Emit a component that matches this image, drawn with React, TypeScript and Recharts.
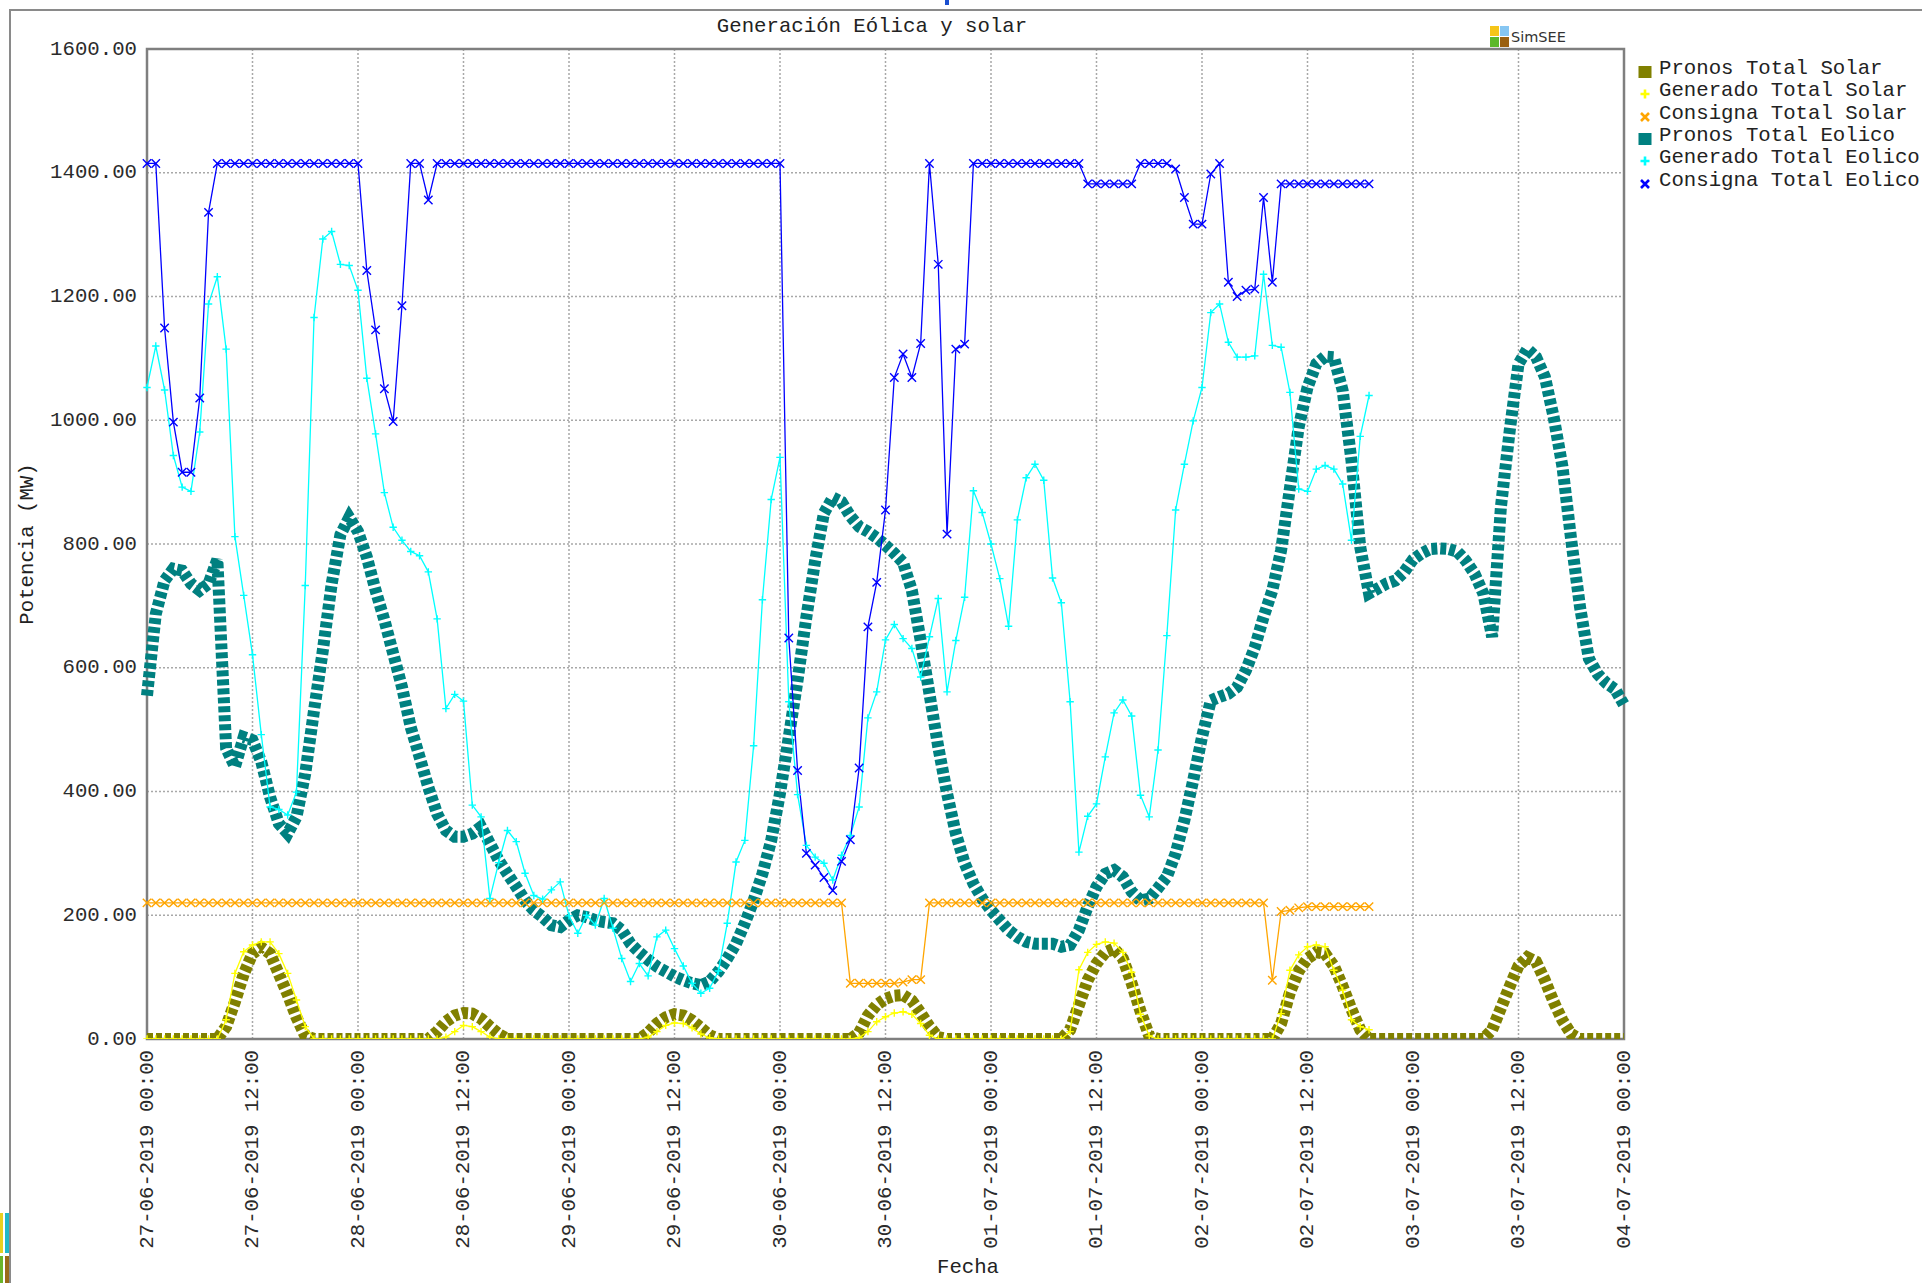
import { LineChart, Line, XAxis, YAxis, CartesianGrid, ReferenceArea } from 'recharts'

const MONO = '"Liberation Mono", "DejaVu Sans Mono", monospace'

// hour 0 = 27-06-2019 00:00, one value per hour
const xTicks = [0, 12, 24, 36, 48, 60, 72, 84, 96, 108, 120, 132, 144, 156, 168]
const xTickLabels = [
  '27-06-2019 00:00', '27-06-2019 12:00', '28-06-2019 00:00', '28-06-2019 12:00',
  '29-06-2019 00:00', '29-06-2019 12:00', '30-06-2019 00:00', '30-06-2019 12:00',
  '01-07-2019 00:00', '01-07-2019 12:00', '02-07-2019 00:00', '02-07-2019 12:00',
  '03-07-2019 00:00', '03-07-2019 12:00', '04-07-2019 00:00',
]
const yTicks = [0, 200, 400, 600, 800, 1000, 1200, 1400, 1600]
const yTickLabels = ['0.00', '200.00', '400.00', '600.00', '800.00', '1000.00', '1200.00', '1400.00', '1600.00']

const pronosSolar = [
  0, 0, 0, 0, 0, 0, 0, 0, 0, 20, 60, 105, 138, 148, 138, 105, 72, 35, 5, 0, 0, 0, 0, 0,
  0, 0, 0, 0, 0, 0, 0, 0, 0, 12, 28, 38, 42, 41, 33, 20, 8, 0, 0, 0, 0, 0, 0, 0,
  0, 0, 0, 0, 0, 0, 0, 0, 0, 10, 25, 35, 40, 38, 30, 18, 6, 0, 0, 0, 0, 0, 0, 0,
  0, 0, 0, 0, 0, 0, 0, 0, 0, 10, 38, 55, 65, 70, 71, 62, 42, 20, 3, 0, 0, 0, 0, 0,
  0, 0, 0, 0, 0, 0, 0, 0, 0, 15, 55, 95, 122, 140, 146, 130, 90, 45, 5, 0, 0, 0, 0, 0,
  0, 0, 0, 0, 0, 0, 0, 0, 0, 25, 75, 110, 130, 140, 138, 118, 85, 48, 15, 0, 0, 0, 0, 0,
  0, 0, 0, 0, 0, 0, 0, 0, 0, 15, 50, 85, 118, 132, 125, 95, 60, 30, 8, 0, 0, 0, 0, 0,
  0,
]

const generadoSolar = [
  0, 0, 0, 0, 0, 0, 0, 0, 0, 31, 106, 141, 152, 157, 157, 138, 106, 63, 20, 0, 0, 0, 0, 0,
  0, 0, 0, 0, 0, 0, 0, 0, 0, 0, 3, 12, 22, 20, 12, 3, 0, 0, 0, 0, 0, 0, 0, 0,
  0, 0, 0, 0, 0, 0, 0, 0, 0, 3, 12, 22, 26, 25, 18, 8, 2, 0, 0, 0, 0, 0, 0, 0,
  0, 0, 0, 0, 0, 0, 0, 0, 0, 2, 12, 28, 36, 42, 44, 40, 25, 6, 0, 0, 0, 0, 0, 0,
  0, 0, 0, 0, 0, 0, 0, 0, 0, 12, 112, 140, 153, 157, 155, 140, 108, 40, 5, 0, 0, 0, 0, 0,
  0, 0, 0, 0, 0, 0, 0, 0, 0, 41, 111, 136, 149, 152, 149, 111, 79, 31, 20, 15,
]

const consignaSolar = [
  220, 220, 220, 220, 220, 220, 220, 220, 220, 220, 220, 220, 220, 220, 220, 220, 220, 220, 220, 220, 220, 220, 220, 220,
  220, 220, 220, 220, 220, 220, 220, 220, 220, 220, 220, 220, 220, 220, 220, 220, 220, 220, 220, 220, 220, 220, 220, 220,
  220, 220, 220, 220, 220, 220, 220, 220, 220, 220, 220, 220, 220, 220, 220, 220, 220, 220, 220, 220, 220, 220, 220, 220,
  220, 220, 220, 220, 220, 220, 220, 220, 90, 90, 90, 90, 90, 90, 92, 96, 96, 220, 220, 220, 220, 220, 220, 220,
  220, 220, 220, 220, 220, 220, 220, 220, 220, 220, 220, 220, 220, 220, 220, 220, 220, 220, 220, 220, 220, 220, 220, 220,
  220, 220, 220, 220, 220, 220, 220, 220, 95, 206, 208, 212, 214, 214, 214, 214, 214, 214, 214, 214,
]

const pronosEolico = [
  555, 687, 741, 760, 757, 736, 725, 736, 775, 470, 440, 488, 483, 448, 391, 348, 332, 359, 429, 531, 628, 735, 815, 843,
  820, 779, 725, 677, 623, 569, 504, 456, 407, 364, 337, 327, 327, 332, 343, 316, 289, 267, 246, 224, 208, 197, 184, 181,
  192, 200, 197, 192, 189, 187, 176, 154, 140, 128, 117, 109, 101, 95, 90, 87, 93, 109, 130, 154, 187, 224, 267, 321,
  397, 488, 580, 682, 773, 850, 875, 868, 845, 828, 820, 810, 798, 785, 770, 725, 644, 558, 472, 397, 332, 284, 251, 227,
  208, 192, 176, 165, 157, 154, 154, 154, 149, 152, 176, 214, 246, 267, 273, 262, 238, 224, 227, 244, 262, 300, 354, 418,
  488, 547, 553, 558, 569, 596, 633, 682, 725, 790, 890, 989, 1053, 1091, 1103, 1102, 1048, 935, 795, 720, 728, 736, 741, 755,
  775, 785, 792, 793, 792, 788, 773, 752, 720, 650, 860, 983, 1091, 1115, 1102, 1070, 1005, 925, 806, 698, 615, 590, 575, 565,
  540,
]

const generadoEolico = [
  1053, 1120, 1049, 943, 892, 885, 981, 1188, 1232, 1115, 812, 717, 621, 492, 375, 371, 362, 399, 733, 1166, 1293, 1305, 1252, 1250,
  1210, 1068, 978, 883, 827, 806, 788, 781, 755, 679, 534, 557, 546, 378, 359, 227, 285, 337, 319, 268, 232, 226, 241, 254,
  199, 171, 200, 184, 227, 179, 130, 93, 122, 102, 165, 176, 146, 118, 90, 74, 82, 110, 187, 286, 321, 474, 710, 872,
  940, 545, 395, 313, 294, 284, 257, 297, 329, 375, 519, 561, 645, 670, 647, 631, 585, 650, 712, 561, 644, 714, 886, 851,
  800, 744, 667, 839, 907, 929, 903, 745, 705, 545, 302, 360, 380, 456, 527, 548, 522, 394, 359, 467, 652, 855, 929, 999,
  1053, 1174, 1188, 1126, 1102, 1102, 1104, 1236, 1121, 1118, 1045, 889, 885, 921, 927, 921, 897, 806, 974, 1040,
]

const consignaEolico = [
  1415, 1415, 1149, 997, 916, 916, 1036, 1336, 1415, 1415, 1415, 1415, 1415, 1415, 1415, 1415, 1415, 1415, 1415, 1415, 1415, 1415, 1415, 1415,
  1415, 1242, 1146, 1051, 998, 1185, 1415, 1415, 1356, 1415, 1415, 1415, 1415, 1415, 1415, 1415, 1415, 1415, 1415, 1415, 1415, 1415, 1415, 1415,
  1415, 1415, 1415, 1415, 1415, 1415, 1415, 1415, 1415, 1415, 1415, 1415, 1415, 1415, 1415, 1415, 1415, 1415, 1415, 1415, 1415, 1415, 1415, 1415,
  1415, 648, 434, 300, 281, 261, 240, 287, 322, 438, 666, 738, 855, 1069, 1107, 1069, 1124, 1415, 1252, 816, 1115, 1123, 1415, 1415,
  1415, 1415, 1415, 1415, 1415, 1415, 1415, 1415, 1415, 1415, 1415, 1382, 1382, 1382, 1382, 1382, 1382, 1415, 1415, 1415, 1415, 1406, 1360, 1317,
  1317, 1398, 1415, 1223, 1200, 1210, 1212, 1360, 1223, 1382, 1382, 1382, 1382, 1382, 1382, 1382, 1382, 1382, 1382, 1382,
]

type Kind = 'band' | 'plus' | 'cross'
const SERIES: { key: string; name: string; color: string; kind: Kind }[] = [
  { key: 'pronosSolar', name: 'Pronos Total Solar', color: '#808000', kind: 'band' },
  { key: 'generadoSolar', name: 'Generado Total Solar', color: '#ffff00', kind: 'plus' },
  { key: 'consignaSolar', name: 'Consigna Total Solar', color: '#ffa500', kind: 'cross' },
  { key: 'pronosEolico', name: 'Pronos Total Eolico', color: '#008080', kind: 'band' },
  { key: 'generadoEolico', name: 'Generado Total Eolico', color: '#00ffff', kind: 'plus' },
  { key: 'consignaEolico', name: 'Consigna Total Eolico', color: '#0000ff', kind: 'cross' },
]

const rows = pronosSolar.map((v, h) => ({
  h,
  pronosSolar: v,
  generadoSolar: generadoSolar[h],
  consignaSolar: consignaSolar[h],
  pronosEolico: pronosEolico[h],
  generadoEolico: generadoEolico[h],
  consignaEolico: consignaEolico[h],
}))

const markerDot = (color: string, kind: Kind) => (props: any) => {
  const { cx, cy, index } = props
  if (cx == null || cy == null || Number.isNaN(cy)) return <g key={`m${index}`} />
  const r = kind === 'plus' ? 3.7 : 4.2
  const d = kind === 'plus'
    ? `M${cx - r},${cy}H${cx + r}M${cx},${cy - r}V${cy + r}`
    : `M${cx - r},${cy - r}L${cx + r},${cy + r}M${cx - r},${cy + r}L${cx + r},${cy - r}`
  return <path key={`m${index}`} d={d} stroke={color} strokeWidth={1.4} fill="none" />
}

function XTick(props: any) {
  const { x, y, payload } = props
  const label = xTickLabels[xTicks.indexOf(payload.value)]
  return (
    <text x={x} y={y} transform={`rotate(-90 ${x} ${y})`} textAnchor="end" dominantBaseline="central"
      fontFamily={MONO} fontSize={20.7} fill="#2b2b2b">
      {label}
    </text>
  )
}

function YTick(props: any) {
  const { x, y, payload } = props
  const label = yTickLabels[yTicks.indexOf(payload.value)]
  return (
    <text x={x} y={y} textAnchor="end" dominantBaseline="central" fontFamily={MONO} fontSize={20.7} fill="#2b2b2b">
      {label}
    </text>
  )
}

function LegendMarker({ color, kind }: { color: string; kind: Kind }) {
  return (
    <svg width={22} height={22} style={{ flexShrink: 0 }}>
      {kind === 'band' && <rect x={1.5} y={8} width={13} height={12} fill={color} />}
      {kind === 'plus' && <path d="M3.5,14H12.5M8,9.5V18.5" stroke={color} strokeWidth={2.6} />}
      {kind === 'cross' && <path d="M4,10L12,18M4,18L12,10" stroke={color} strokeWidth={2.6} />}
    </svg>
  )
}

export default function App() {
  return (
    <div style={{ position: 'absolute', left: 0, top: 0, width: 1922, height: 1283, background: '#fff', overflow: 'hidden' }}>
      {/* outer frame of the screenshot */}
      <div style={{ position: 'absolute', left: 9, top: 9, right: 0, bottom: 0, borderTop: '2px solid #8a8a8a', borderLeft: '2px solid #8a8a8a' }} />
      <div style={{ position: 'absolute', left: 945, top: 0, width: 4, height: 5, background: '#1a4fd0' }} />
      <div style={{ position: 'absolute', left: 0, top: 1213, width: 3, height: 40, background: '#e8d020' }} />
      <div style={{ position: 'absolute', left: 5, top: 1213, width: 4, height: 40, background: '#20b8c8' }} />
      <div style={{ position: 'absolute', left: 0, top: 1256, width: 3, height: 27, background: '#6ab52a' }} />
      <div style={{ position: 'absolute', left: 5, top: 1256, width: 4, height: 27, background: '#9a6a18' }} />

      <div style={{ position: 'absolute', left: 0, top: 0 }}>
        <LineChart width={1922} height={1283} data={rows} margin={{ top: 49, right: 298, bottom: 0, left: 0 }}>
          <CartesianGrid stroke="#a8a8a8" strokeDasharray="2 2" strokeWidth={1.5} />
          <XAxis dataKey="h" type="number" domain={[0, 168]} ticks={xTicks} interval={0} height={244}
            tickSize={0} tickMargin={11} axisLine={false} tickLine={false} tick={<XTick />} />
          <YAxis type="number" domain={[0, 1600]} ticks={yTicks} interval={0} width={147} allowDataOverflow
            tickSize={0} tickMargin={10} axisLine={false} tickLine={false} tick={<YTick />} />
          {SERIES.map(s => s.kind === 'band' ? (
            <Line key={s.key} dataKey={s.key} type="linear" stroke={s.color} strokeWidth={12} strokeDasharray="6 3"
              dot={false} activeDot={false} isAnimationActive={false} />
          ) : (
            <Line key={s.key} dataKey={s.key} type="linear" stroke={s.color} strokeWidth={1.3}
              dot={markerDot(s.color, s.kind)} activeDot={false} isAnimationActive={false} />
          ))}
          <ReferenceArea x1={0} x2={168} y1={0} y2={1600} fill="none" stroke="#7f7f7f" strokeWidth={2.5} ifOverflow="visible" />
        </LineChart>
      </div>

      {/* title */}
      <div style={{ position: 'absolute', left: 0, top: 14, width: 1744, textAlign: 'center', fontFamily: MONO, fontSize: 20.7, lineHeight: '26px', color: '#222' }}>
        Generación Eólica y solar
      </div>

      {/* SimSEE logo */}
      <div style={{ position: 'absolute', left: 1490, top: 26, width: 9, height: 10, background: '#f5c518' }} />
      <div style={{ position: 'absolute', left: 1500, top: 26, width: 9, height: 10, background: '#86c6f2' }} />
      <div style={{ position: 'absolute', left: 1490, top: 37, width: 9, height: 10, background: '#5cb82a' }} />
      <div style={{ position: 'absolute', left: 1500, top: 37, width: 9, height: 10, background: '#9a6010' }} />
      <div style={{ position: 'absolute', left: 1511, top: 29, fontFamily: '"DejaVu Sans", sans-serif', fontSize: 14.5, lineHeight: '17px', color: '#333' }}>
        SimSEE
      </div>

      {/* axis titles */}
      <div style={{ position: 'absolute', left: 27, top: 544, transform: 'translate(-50%, -50%) rotate(-90deg)', whiteSpace: 'nowrap', fontFamily: MONO, fontSize: 20.7, color: '#222' }}>
        Potencia (MW)
      </div>
      <div style={{ position: 'absolute', left: 968, top: 1267, transform: 'translate(-50%, -50%)', whiteSpace: 'nowrap', fontFamily: MONO, fontSize: 20.7, color: '#222' }}>
        Fecha
      </div>

      {/* legend */}
      <div style={{ position: 'absolute', left: 1637, top: 58 }}>
        {SERIES.map(s => (
          <div key={s.key} style={{ display: 'flex', alignItems: 'center', height: 22.3 }}>
            <LegendMarker color={s.color} kind={s.kind} />
            <span style={{ fontFamily: MONO, fontSize: 20.7, lineHeight: '22px', color: '#222', whiteSpace: 'nowrap' }}>{s.name}</span>
          </div>
        ))}
      </div>
    </div>
  )
}
